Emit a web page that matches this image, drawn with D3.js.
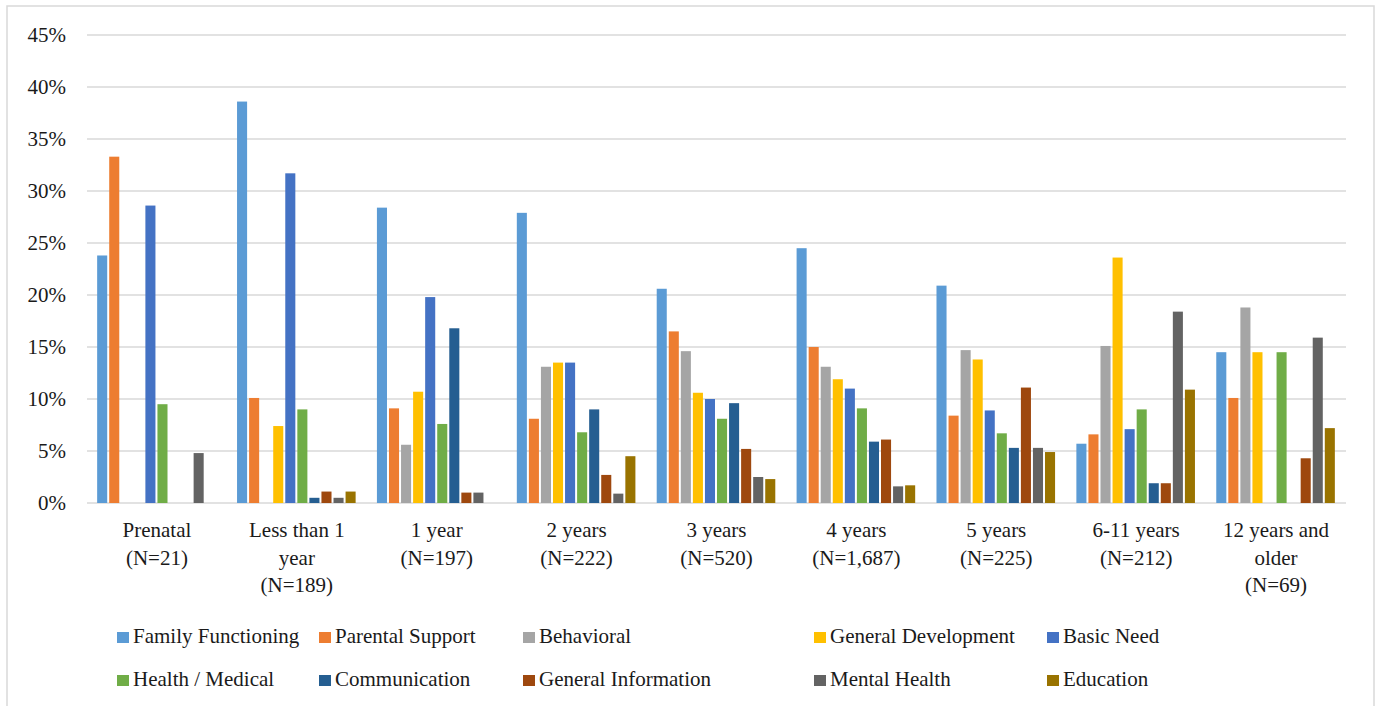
<!DOCTYPE html>
<html>
<head>
<meta charset="utf-8">
<script src="https://cdn.jsdelivr.net/npm/d3@7"></script>
<style>
  html, body { margin: 0; padding: 0; background: #fff; }
  svg { display: block; }
  text { font-family: "Liberation Serif", "Times New Roman", serif; fill: #1a1a1a; }
</style>
</head>
<body>
<svg id="chart" width="1380" height="706"></svg>
<script>
// ---- Data ----
const categories = ["Prenatal", "Less than 1 year", "1 year", "2 years", "3 years", "4 years", "5 years", "6-11 years", "12 years and older"];
const categoryLabelLines = [
  ["Prenatal", "(N=21)"],
  ["Less than 1", "year", "(N=189)"],
  ["1 year", "(N=197)"],
  ["2 years", "(N=222)"],
  ["3 years", "(N=520)"],
  ["4 years", "(N=1,687)"],
  ["5 years", "(N=225)"],
  ["6-11 years", "(N=212)"],
  ["12 years and", "older", "(N=69)"]
];
const seriesNames = ["Family Functioning", "Parental Support", "Behavioral", "General Development", "Basic Need",
                     "Health / Medical", "Communication", "General Information", "Mental Health", "Education"];
const seriesColors = ["#5B9BD5", "#ED7D31", "#A5A5A5", "#FFC000", "#4472C4",
                      "#70AD47", "#255E91", "#9E480E", "#636363", "#997300"];
// values in percent, one array per series, in category order
const familyFunctioning   = [23.8, 38.6, 28.4, 27.9, 20.6, 24.5, 20.9, 5.7, 14.5];
const parentalSupport     = [33.3, 10.1, 9.1, 8.1, 16.5, 15.0, 8.4, 6.6, 10.1];
const behavioral          = [0, 0, 5.6, 13.1, 14.6, 13.1, 14.7, 15.1, 18.8];
const generalDevelopment  = [0, 7.4, 10.7, 13.5, 10.6, 11.9, 13.8, 23.6, 14.5];
const basicNeed           = [28.6, 31.7, 19.8, 13.5, 10.0, 11.0, 8.9, 7.1, 0];
const healthMedical       = [9.5, 9.0, 7.6, 6.8, 8.1, 9.1, 6.7, 9.0, 14.5];
const communication       = [0, 0.5, 16.8, 9.0, 9.6, 5.9, 5.3, 1.9, 0];
const generalInformation  = [0, 1.1, 1.0, 2.7, 5.2, 6.1, 11.1, 1.9, 4.3];
const mentalHealth        = [4.8, 0.5, 1.0, 0.9, 2.5, 1.6, 5.3, 18.4, 15.9];
const education           = [0, 1.1, 0, 4.5, 2.3, 1.7, 4.9, 10.9, 7.2];
const seriesValues = [familyFunctioning, parentalSupport, behavioral, generalDevelopment, basicNeed,
                      healthMedical, communication, generalInformation, mentalHealth, education];
const yTicks = [0, 5, 10, 15, 20, 25, 30, 35, 40, 45];

// ---- Layout ----
const svg = d3.select("#chart");
const plot = { left: 87, right: 1346, top: 35, bottom: 503 };
const FONT = 21;

// chart border
svg.append("rect")
  .attr("x", 7).attr("y", 6).attr("width", 1367).attr("height", 720)
  .attr("fill", "none").attr("stroke", "#d9d9d9").attr("stroke-width", 1.5);

const x0 = d3.scaleBand().domain(categories).range([plot.left, plot.right])
  .paddingInner(0.138).paddingOuter(0.069);
const x1 = d3.scaleBand().domain(seriesNames).range([0, x0.bandwidth()]).padding(0);
const y = d3.scaleLinear().domain([0, 45]).range([plot.bottom, plot.top]);

// gridlines
svg.append("g").selectAll("line").data(yTicks).join("line")
  .attr("x1", plot.left).attr("x2", plot.right)
  .attr("y1", d => y(d)).attr("y2", d => y(d))
  .attr("stroke", "#d9d9d9").attr("stroke-width", 1.5);

// y axis labels
svg.append("g").selectAll("text").data(yTicks).join("text")
  .attr("x", 66).attr("y", d => y(d)).attr("dy", "0.35em")
  .attr("text-anchor", "end").attr("font-size", FONT)
  .text(d => d + "%");

// bars
const barData = [];
seriesNames.forEach((s, si) => {
  categories.forEach((c, ci) => {
    barData.push({ series: s, cat: c, value: seriesValues[si][ci], color: seriesColors[si] });
  });
});
svg.append("g").selectAll("rect").data(barData.filter(d => d.value > 0)).join("rect")
  .attr("x", d => x0(d.cat) + x1(d.series) + 0.5)
  .attr("width", x1.bandwidth() - 2)
  .attr("y", d => y(d.value))
  .attr("height", d => y(0) - y(d.value))
  .attr("fill", d => d.color);

// category labels
const catG = svg.append("g");
categories.forEach((c, i) => {
  const t = catG.append("text")
    .attr("x", x0(c) + x0.bandwidth() / 2)
    .attr("y", 537)
    .attr("text-anchor", "middle").attr("font-size", FONT);
  categoryLabelLines[i].forEach((line, li) => {
    t.append("tspan").attr("x", x0(c) + x0.bandwidth() / 2)
      .attr("y", 537 + li * 27.5).text(line);
  });
});

// legend (two rows, five columns)
const legendCols = [117, 319, 523, 814, 1047];
const legendRows = [643, 686];
const lg = svg.append("g");
seriesNames.forEach((s, i) => {
  const col = i % 5, row = Math.floor(i / 5);
  const gx = legendCols[col], gy = legendRows[row];
  lg.append("rect").attr("x", gx).attr("y", gy - 11).attr("width", 12).attr("height", 11)
    .attr("fill", seriesColors[i]);
  lg.append("text").attr("x", gx + 16).attr("y", gy).attr("font-size", FONT).text(s);
});
</script>
</body>
</html>
